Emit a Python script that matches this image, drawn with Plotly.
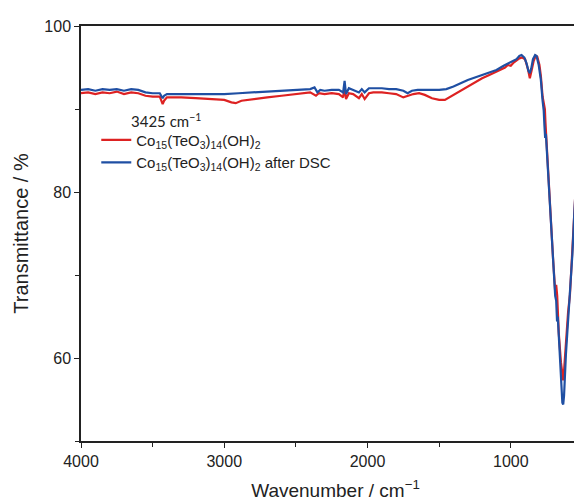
import plotly.graph_objects as go

# ---- data ----
wn_red = [4000, 3950, 3900, 3850, 3800, 3750, 3700, 3650, 3600, 3550, 3500, 3450, 3430, 3420, 3400,
          3300, 3200, 3100, 3000, 2950, 2920, 2880, 2800, 2700, 2600, 2500, 2400, 2360, 2340, 2300,
          2250, 2200, 2170, 2160, 2150, 2130, 2100, 2060, 2040, 2020, 1990, 1960, 1900, 1850, 1800,
          1750, 1720, 1680, 1640, 1600, 1550, 1500, 1460, 1420, 1380, 1340, 1300, 1250, 1200, 1150,
          1100, 1060, 1040, 1020, 1000, 980, 960, 940, 920, 900, 880, 867, 855, 840, 825, 815, 800,
          790, 778, 768, 762, 758, 750, 742, 738, 733, 720, 705, 690, 683, 676, 665, 650, 640, 634,
          628, 615, 600, 587, 570, 555, 548, 543, 535, 525, 515, 510, 505, 495, 490, 485, 479, 473,
          468, 462, 455, 450, 447]
t_red = [91.9, 92.0, 91.8, 92.0, 91.9, 92.1, 91.8, 92.0, 91.9, 91.6, 91.5, 91.5, 90.6, 91.0, 91.4,
         91.4, 91.3, 91.2, 91.1, 90.8, 90.7, 91.0, 91.2, 91.4, 91.6, 91.8, 92.0, 91.6, 91.9, 91.8,
         91.9, 91.8, 91.4, 92.8, 91.2, 91.9, 91.8, 91.3, 91.8, 91.2, 91.9, 92.0, 92.0, 91.9, 91.8,
         91.4, 91.6, 91.8, 91.9, 91.7, 91.3, 91.1, 91.1, 91.5, 92.0, 92.4, 92.8, 93.3, 93.7, 94.1,
         94.5, 94.8, 95.0, 95.3, 95.2, 95.6, 95.9, 96.1, 96.2, 96.0, 94.8, 93.7, 94.6, 95.8, 96.4, 96.3, 95.3,
         94.0, 91.5, 90.3, 90.0, 88.4, 86.0, 82.0, 81.8, 80.0, 76.5, 72.0, 68.0, 68.8, 67.5, 63.0, 59.5, 57.6, 57.3,
         58.5, 62.0, 65.5, 67.6, 72.5, 78.0, 80.2, 79.5, 73.0, 66.0, 62.0, 61.5, 64.0, 69.5, 71.8, 71.0, 70.0, 70.5,
         70.2, 67.0, 63.0, 60.8, 60.4]

wn_blue = [4000, 3950, 3900, 3850, 3800, 3750, 3700, 3650, 3600, 3550, 3500, 3450, 3430, 3420, 3400,
           3300, 3200, 3100, 3000, 2900, 2800, 2700, 2600, 2500, 2400, 2370, 2350, 2330, 2300, 2250,
           2200, 2170, 2160, 2150, 2130, 2100, 2060, 2040, 2020, 1990, 1960, 1900, 1850, 1800, 1750,
           1720, 1690, 1650, 1600, 1550, 1500, 1450, 1400, 1350, 1300, 1250, 1200, 1150, 1100, 1050,
           1000, 960, 940, 925, 905, 890, 877, 867, 857, 845, 830, 820, 805, 790, 778, 770, 765, 760,
           755, 750, 742, 738, 733, 720, 705, 690, 683, 677, 672, 660, 648, 640, 634, 628, 615, 600,
           587, 570, 555, 547, 541, 535, 525, 515, 511, 505, 495, 490, 485, 479, 473, 468, 462, 455,
           450, 447]
t_blue = [92.3, 92.4, 92.2, 92.4, 92.3, 92.4, 92.2, 92.4, 92.3, 92.0, 91.9, 91.9, 91.3, 91.6, 91.8,
          91.8, 91.8, 91.8, 91.8, 91.9, 92.0, 92.1, 92.2, 92.3, 92.4, 92.6, 92.0, 92.3, 92.2, 92.3,
          92.3, 92.0, 93.4, 91.8, 92.5, 92.3, 92.0, 92.4, 92.0, 92.5, 92.5, 92.5, 92.4, 92.4, 92.2,
          91.9, 92.2, 92.3, 92.3, 92.3, 92.3, 92.4, 92.7, 93.1, 93.5, 93.8, 94.1, 94.4, 94.7, 95.2,
          95.7, 96.0, 96.4, 96.5, 96.2, 95.5, 94.6, 94.3, 94.9, 96.0, 96.5, 96.4, 95.3, 93.5, 91.0, 89.8, 88.0, 86.5,
          87.0, 85.5, 82.0, 80.5, 79.5, 76.0, 72.0, 67.5, 66.9, 64.4, 65.0, 60.5, 56.5, 54.6, 54.4, 55.5, 60.5, 64.5,
          67.6, 72.5, 78.0, 80.3, 79.0, 73.0, 66.0, 62.0, 61.2, 64.0, 69.5, 71.2, 70.3, 68.1, 69.5, 69.8, 66.5, 62.8,
          60.8, 60.4]

name_red = "Co<sub>15</sub>(TeO<sub>3</sub>)<sub>14</sub>(OH)<sub>2</sub>"
name_blue = "Co<sub>15</sub>(TeO<sub>3</sub>)<sub>14</sub>(OH)<sub>2</sub> after DSC"
x_ticks = [4000, 3000, 2000, 1000]
y_ticks = [60, 80, 100]

RED = "#dd2222"
BLUE = "#1f4fa3"
FONT = "Liberation Sans, Arial, sans-serif"

fig = go.Figure()
fig.add_trace(go.Scatter(x=wn_red, y=t_red, mode="lines", name=name_red,
                         line=dict(color=RED, width=2.2)))
fig.add_trace(go.Scatter(x=wn_blue, y=t_blue, mode="lines", name=name_blue,
                         line=dict(color=BLUE, width=2.2)))

fig.add_annotation(text="3425 cm<sup>−1</sup>", xref="paper", yref="paper",
                   x=0.094, y=0.772, xanchor="left", yanchor="middle", showarrow=False,
                   font=dict(family="Lato, Open Sans, sans-serif", size=15, color="#222"))

fig.update_layout(
    width=582, height=501,
    margin=dict(l=73, r=0, t=18, b=68),
    plot_bgcolor="white", paper_bgcolor="white",
    font=dict(family=FONT, color="#222"),
    showlegend=True,
    legend=dict(x=0.03, y=0.765, xanchor="left", yanchor="top",
                bgcolor="rgba(0,0,0,0)", font=dict(size=15, family=FONT),
                tracegroupgap=0, itemwidth=30),
    xaxis=dict(range=[4000, 447], tickvals=x_ticks, ticktext=[str(v) for v in x_ticks],
               showgrid=False, zeroline=False, showline=True, linecolor="#222", linewidth=1.5,
               mirror=True, ticks="outside", ticklen=5, tickwidth=1.2, tickcolor="#222",
               minor=dict(dtick=500, ticks="outside", ticklen=4, tickwidth=1.2, tickcolor="#222"),
               tickfont=dict(size=16),
               title=dict(text="Wavenumber / cm<sup>−1</sup>", font=dict(size=19), standoff=15)),
    yaxis=dict(range=[50, 100], tickvals=y_ticks, ticktext=[str(v) for v in y_ticks],
               showgrid=False, zeroline=False, showline=True, linecolor="#222", linewidth=1.5,
               ticks="outside", ticklen=5, tickwidth=1.2, tickcolor="#222",
               minor=dict(dtick=10, ticks="outside", ticklen=4, tickwidth=1.2, tickcolor="#222"),
               tickfont=dict(size=16),
               title=dict(text="Transmittance / %", font=dict(size=20), standoff=10)),
)

fig.write_html("out.html")
